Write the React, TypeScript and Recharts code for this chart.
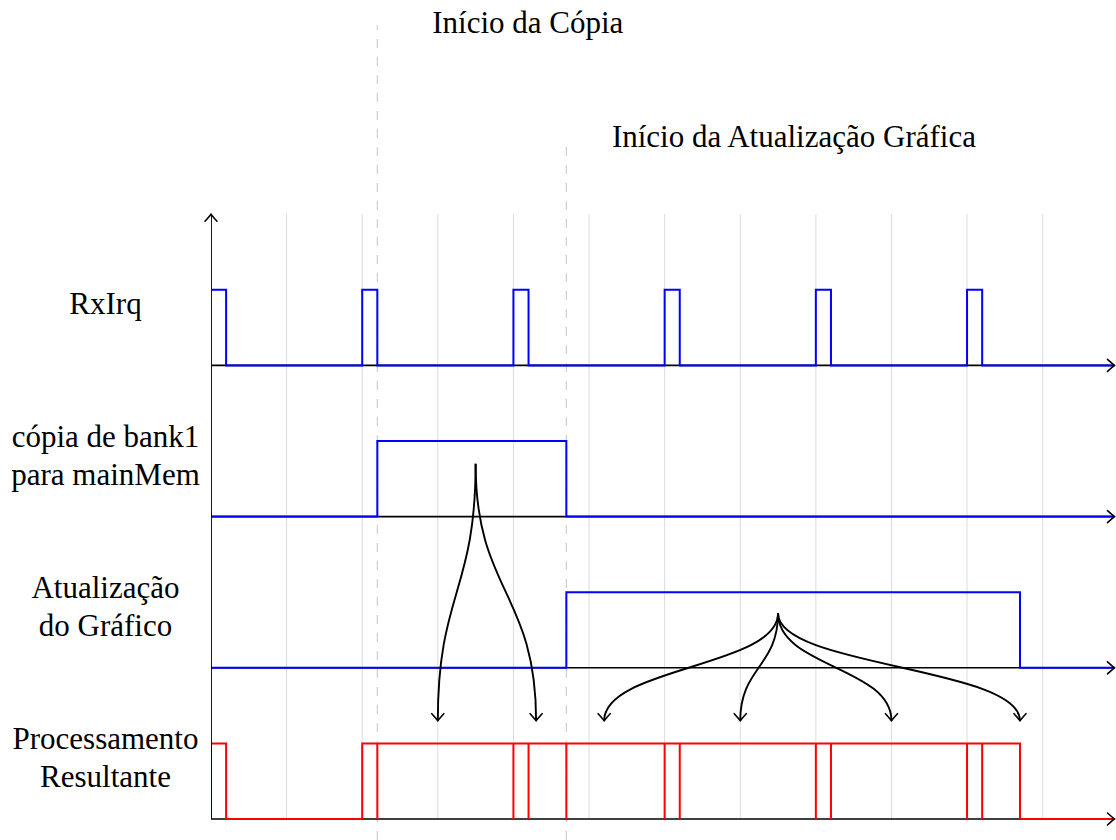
import { ComposedChart, Line, XAxis, YAxis, ReferenceDot } from "recharts";

// signals: edge times and the level after each edge
const rxIrqTimes = [0, 0.2, 2, 2.2, 4, 4.2, 6, 6.2, 8, 8.2, 10, 10.2, 11.95];
const rxIrqLevels = [1, 0, 1, 0, 1, 0, 1, 0, 1, 0, 1, 0, 0];
const copyTimes = [0, 2.2, 4.7, 11.95];
const copyLevels = [0, 1, 0, 0];
const updateTimes = [0, 4.7, 10.7, 11.95];
const updateLevels = [0, 1, 0, 0];

const laneNames = [
  ["Processamento", "Resultante"],
  ["Atualização", "do Gráfico"],
  ["cópia de bank1", "para mainMem"],
  ["RxIrq"],
];
const laneBases = [0, 2, 4, 6];

const gridTimes = [1, 2, 3, 4, 5, 6, 7, 8, 9, 10, 11];
const markerTimes = [2.2, 4.7];
const markerTops = [10.5, 9.01];
const markerLabels = ["Início da Cópia", "Início da Atualização Gráfica"];

// arrows from the middle of copy / update blocks to the resulting processing
const copyArrowFrom = { t: 3.5, v: 4.7 };
const copyArrowTo = [3.0, 4.3];
const updateArrowFrom = { t: 7.5, v: 2.72 };
const updateArrowTo = [5.2, 7.0, 9.0, 10.7];
const arrowTargetLevel = 1.3;

const W = 1116;
const H = 840;
const AXIS_W = 211;
const X_DOMAIN: [number, number] = [0, 11.97];
const Y_DOMAIN: [number, number] = [-0.278, 10.833];
const AXIS_END = 11.95;
const AXIS_TOP = 8;
const FONT = "Liberation Serif, Times New Roman, serif";

type Pt = { t: number; v: number | null };

function stepData(times: number[], levels: number[], base: number): Pt[] {
  return times.map((t, i) => ({ t, v: base + levels[i] }));
}

function pulsesOf(times: number[], levels: number[]): [number, number][] {
  const out: [number, number][] = [];
  for (let i = 0; i < times.length - 1; i++) {
    if (levels[i] === 1) out.push([times[i], times[i + 1]]);
  }
  return out;
}

const allPulses = [
  ...pulsesOf(rxIrqTimes, rxIrqLevels),
  ...pulsesOf(copyTimes, copyLevels),
  ...pulsesOf(updateTimes, updateLevels),
];

// red outlines, open at the bottom
const resultPulses: Pt[] = allPulses.flatMap(([s, e]) => [
  { t: s, v: 0 },
  { t: s, v: 1 },
  { t: e, v: 1 },
  { t: e, v: 0 },
  { t: e, v: null },
]);

// red low segments where no pulse is high
const resultLows: Pt[] = (() => {
  const sorted = [...allPulses].sort((a, b) => a[0] - b[0]);
  const merged: [number, number][] = [];
  sorted.forEach(([s, e]) => {
    const last = merged[merged.length - 1];
    if (last && s <= last[1] + 1e-9) last[1] = Math.max(last[1], e);
    else merged.push([s, e]);
  });
  const pts: Pt[] = [];
  let cur = 0;
  merged.forEach(([s, e]) => {
    if (s > cur) pts.push({ t: cur, v: 0 }, { t: s, v: 0 }, { t: s, v: null });
    cur = e;
  });
  if (cur < AXIS_END) pts.push({ t: cur, v: 0 }, { t: AXIS_END, v: 0 });
  return pts;
})();

function ArrowHead({ x, y, angle }: { x: number; y: number; angle: number }) {
  return (
    <path
      d="M -7 -6 Q -2 -1.5 0 0 Q -2 1.5 -7 6"
      transform={`translate(${x},${y}) rotate(${angle})`}
      fill="none"
      stroke="#000"
      strokeWidth={1.6}
      strokeLinecap="round"
    />
  );
}

function arrowTip(angle: number, lastIndex: number) {
  return (props: any) => {
    const { cx, cy, index } = props;
    if (index !== lastIndex || cx == null || cy == null)
      return <g key={`n-${index}`} />;
    return (
      <g key={`a-${index}`}>
        <ArrowHead x={cx} y={cy} angle={angle} />
      </g>
    );
  };
}

function LaneTick(props: any) {
  const { y, payload } = props;
  const idx = laneBases.indexOf(payload.value);
  const lines = laneNames[idx] || [];
  const first = y - 51 - (lines.length - 1) * 18.5;
  return (
    <g>
      {lines.map((s, i) => (
        <text
          key={s}
          x={AXIS_W / 2}
          y={first + i * 37.5}
          textAnchor="middle"
          style={{ fontFamily: FONT }}
          fontSize={31}
          fill="#000"
        >
          {s}
        </text>
      ))}
    </g>
  );
}

const labelStyle = {
  position: "center" as const,
  fill: "#000",
  fontSize: 31,
  style: { fontFamily: FONT },
};

export default function App() {
  return (
    <div style={{ position: "absolute", left: 0, top: 0, width: W, height: H, background: "#fff", fontFamily: FONT }}>
      <ComposedChart width={W} height={H} margin={{ top: 0, right: 0, bottom: 0, left: 0 }}>
        <XAxis hide type="number" dataKey="t" domain={X_DOMAIN} allowDataOverflow />
        <YAxis
          type="number"
          width={AXIS_W}
          domain={Y_DOMAIN}
          allowDataOverflow
          ticks={laneBases}
          interval={0}
          axisLine={false}
          tickLine={false}
          tick={<LaneTick />}
        />

        {gridTimes.map((g) => (
          <Line
            key={`grid-${g}`}
            data={[{ t: g, v: 0 }, { t: g, v: AXIS_TOP }]}
            dataKey="v"
            type="linear"
            stroke="#dcdcdc"
            strokeWidth={1}
            dot={false}
            activeDot={false}
            isAnimationActive={false}
          />
        ))}

        {markerTimes.map((m, i) => (
          <Line
            key={`mark-${m}`}
            data={[{ t: m, v: Y_DOMAIN[0] }, { t: m, v: markerTops[i] }]}
            dataKey="v"
            type="linear"
            stroke="#cfcfcf"
            strokeWidth={1.2}
            strokeDasharray="9 9"
            dot={false}
            activeDot={false}
            isAnimationActive={false}
          />
        ))}

        {laneBases.map((b) => (
          <Line
            key={`base-${b}`}
            data={[{ t: 0, v: b }, { t: AXIS_END, v: b }]}
            dataKey="v"
            type="linear"
            stroke="#000"
            strokeWidth={1.6}
            dot={arrowTip(0, 1)}
            activeDot={false}
            isAnimationActive={false}
          />
        ))}

        <Line data={stepData(rxIrqTimes, rxIrqLevels, 6)} dataKey="v" type="stepAfter" stroke="#0000ff" strokeWidth={2} dot={false} activeDot={false} isAnimationActive={false} />
        <Line data={stepData(copyTimes, copyLevels, 4)} dataKey="v" type="stepAfter" stroke="#0000ff" strokeWidth={2} dot={false} activeDot={false} isAnimationActive={false} />
        <Line data={stepData(updateTimes, updateLevels, 2)} dataKey="v" type="stepAfter" stroke="#0000ff" strokeWidth={2} dot={false} activeDot={false} isAnimationActive={false} />

        <Line data={resultLows} dataKey="v" type="linear" stroke="#ff0000" strokeWidth={2} dot={false} activeDot={false} isAnimationActive={false} />
        <Line data={resultPulses} dataKey="v" type="linear" stroke="#ff0000" strokeWidth={2} dot={false} activeDot={false} isAnimationActive={false} />

        <Line
          data={[{ t: 0, v: 0 }, { t: 0, v: AXIS_TOP }]}
          dataKey="v"
          type="linear"
          stroke="#000"
          strokeWidth={1.8}
          dot={false}
          activeDot={false}
          isAnimationActive={false}
        />
        <ReferenceDot
          x={0}
          y={AXIS_TOP}
          r={0}
          ifOverflow="visible"
          shape={(p: any) => <ArrowHead x={p.cx} y={p.cy} angle={-90} />}
        />

        {copyArrowTo.map((x) => (
          <Line
            key={`ca-${x}`}
            data={[copyArrowFrom, { t: x, v: arrowTargetLevel }]}
            dataKey="v"
            type="bumpY"
            stroke="#000"
            strokeWidth={1.9}
            dot={arrowTip(90, 1)}
            activeDot={false}
            isAnimationActive={false}
          />
        ))}
        {updateArrowTo.map((x) => (
          <Line
            key={`ua-${x}`}
            data={[updateArrowFrom, { t: x, v: arrowTargetLevel }]}
            dataKey="v"
            type="bumpY"
            stroke="#000"
            strokeWidth={1.9}
            dot={arrowTip(90, 1)}
            activeDot={false}
            isAnimationActive={false}
          />
        ))}

        <ReferenceDot x={4.19} y={10.54} r={0} fill="none" stroke="none" label={{ value: markerLabels[0], ...labelStyle }} />
        <ReferenceDot x={7.71} y={9.03} r={0} fill="none" stroke="none" label={{ value: markerLabels[1], ...labelStyle }} />
      </ComposedChart>
    </div>
  );
}
